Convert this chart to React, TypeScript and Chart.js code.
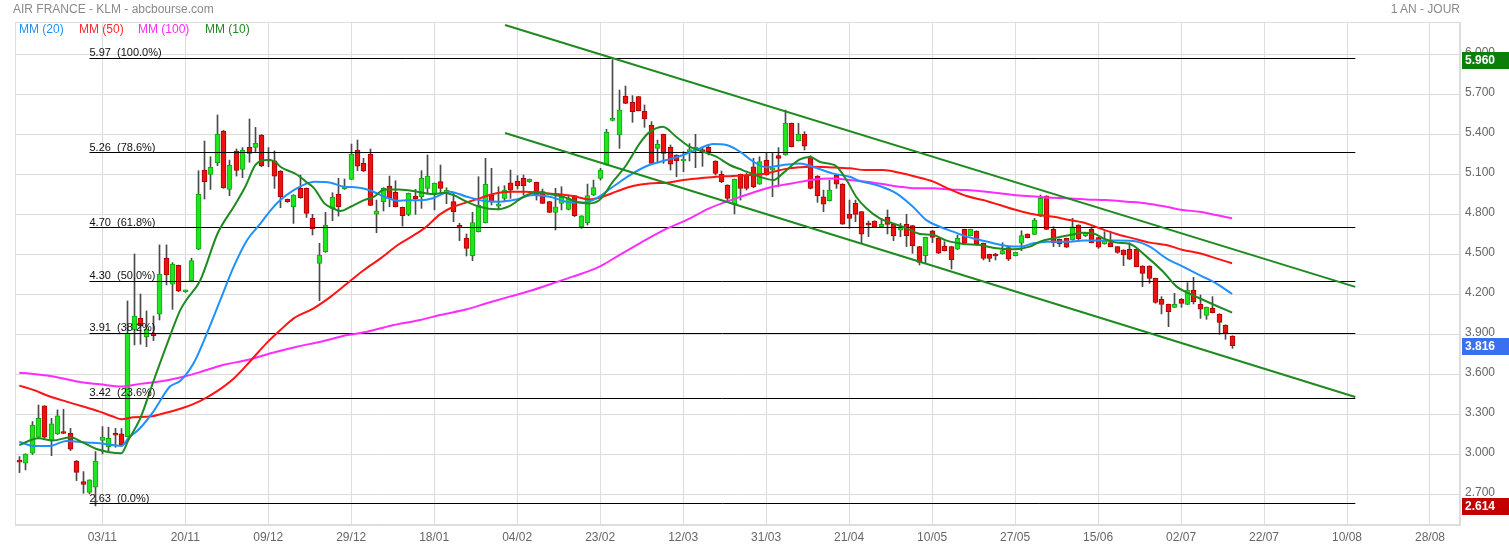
import React, { useEffect, useRef } from "react";
import { Chart, registerables } from "chart.js";

Chart.register(...registerables);

const FONT = 'Arial, "Liberation Sans", Helvetica, sans-serif';

// ---- data (x = trading-day index, 0 = 03/11) ----
const FIRST_DAY = -13;
const X_MIN = -13.67;
const X_MAX = 212.7;
const Y_MIN = 2.471;
const Y_MAX = 6.242;

const opens = [
  2.951, 2.934, 3.009, 3.129, 3.364, 3.104, 3.154, 3.162, 3.159, 2.951,
  2.796, 2.716, 2.754, 3.106, 3.059, 3.154, 3.154, 3.134, 3.933, 4.021,
  3.883, 3.903, 4.051, 4.471, 4.276, 4.418, 4.220, 4.303, 4.538, 5.132,
  5.100, 5.187, 5.425, 4.987, 5.275, 5.137, 5.302, 5.302, 5.395, 5.205,
  5.202, 5.125, 4.912, 4.857, 4.995, 4.995, 4.770, 4.433, 4.520, 4.845,
  4.950, 4.992, 5.062, 5.282, 5.182, 5.250, 4.802, 4.895, 5.012, 4.965,
  4.852, 4.800, 4.937, 4.933, 4.995, 4.957, 5.045, 4.965, 4.895, 4.718,
  4.620, 4.490, 4.670, 4.738, 4.945, 4.862, 4.920, 5.037, 5.050, 5.070,
  5.045, 5.040, 4.970, 4.895, 4.815, 4.882, 4.837, 4.940, 4.708, 4.738,
  4.945, 5.070, 5.177, 5.505, 5.395, 5.687, 5.640, 5.682, 5.575, 5.470,
  5.295, 5.400, 5.302, 5.245, 5.200, 5.270, 5.290, 5.280, 5.302, 5.200,
  5.102, 5.020, 4.875, 5.100, 5.095, 5.157, 5.027, 5.207, 5.132, 5.240,
  5.245, 5.482, 5.352, 5.400, 5.232, 5.087, 4.932, 4.902, 5.095, 5.027,
  4.802, 4.882, 4.820, 4.732, 4.750, 4.707, 4.777, 4.725, 4.682, 4.725,
  4.715, 4.558, 4.490, 4.677, 4.620, 4.562, 4.558, 4.538, 4.687, 4.640,
  4.675, 4.583, 4.500, 4.490, 4.503, 4.550, 4.490, 4.583, 4.652, 4.650,
  4.787, 4.937, 4.687, 4.613, 4.620, 4.608, 4.720, 4.640, 4.687, 4.625,
  4.578, 4.588, 4.558, 4.533, 4.538, 4.538, 4.413, 4.413, 4.320, 4.163,
  4.125, 4.103, 4.163, 4.125, 4.233, 4.125, 4.043, 4.095, 4.053, 3.970,
  3.888,
];
const highs = [
  2.984, 3.005, 3.246, 3.371, 3.366, 3.271, 3.334, 3.339, 3.196, 2.955,
  2.871, 2.810, 3.021, 3.209, 3.204, 3.196, 3.194, 4.151, 4.503, 4.203,
  4.076, 4.038, 4.571, 4.571, 4.438, 4.420, 4.232, 4.471, 5.127, 5.350,
  5.232, 5.545, 5.430, 5.207, 5.290, 5.300, 5.515, 5.452, 5.398, 5.300,
  5.275, 5.128, 4.915, 4.948, 5.095, 4.998, 4.800, 4.583, 4.815, 4.962,
  5.070, 5.065, 5.327, 5.357, 5.220, 5.290, 4.907, 5.000, 5.087, 5.052,
  4.855, 4.960, 4.987, 5.127, 5.245, 5.035, 5.170, 5.000, 4.957, 4.733,
  4.653, 4.815, 5.082, 5.220, 5.145, 5.007, 5.015, 5.132, 5.090, 5.095,
  5.065, 5.042, 4.990, 4.897, 4.995, 5.007, 4.940, 4.942, 4.790, 5.027,
  5.057, 5.145, 5.437, 5.960, 5.732, 5.762, 5.690, 5.685, 5.620, 5.495,
  5.357, 5.402, 5.320, 5.247, 5.270, 5.330, 5.400, 5.300, 5.320, 5.202,
  5.125, 5.022, 5.065, 5.102, 5.107, 5.220, 5.232, 5.257, 5.257, 5.300,
  5.582, 5.485, 5.482, 5.420, 5.240, 5.090, 4.982, 5.057, 5.097, 5.030,
  4.907, 4.907, 4.822, 4.750, 4.752, 4.770, 4.833, 4.727, 4.732, 4.800,
  4.717, 4.560, 4.629, 4.679, 4.622, 4.595, 4.560, 4.645, 4.689, 4.689,
  4.677, 4.585, 4.502, 4.508, 4.587, 4.552, 4.517, 4.677, 4.654, 4.770,
  4.945, 4.940, 4.707, 4.615, 4.622, 4.770, 4.722, 4.664, 4.707, 4.627,
  4.670, 4.670, 4.560, 4.535, 4.587, 4.540, 4.415, 4.415, 4.322, 4.183,
  4.127, 4.208, 4.170, 4.288, 4.328, 4.195, 4.105, 4.183, 4.055, 3.972,
  3.890,
];
const lows = [
  2.864, 2.884, 3.000, 3.120, 3.120, 2.991, 3.150, 3.155, 3.029, 2.804,
  2.709, 2.705, 2.614, 3.004, 3.014, 3.054, 3.065, 3.130, 3.821, 3.826,
  3.808, 3.853, 4.008, 4.271, 4.088, 4.220, 4.215, 4.298, 4.535, 4.915,
  4.987, 5.165, 4.995, 4.940, 5.087, 5.075, 5.190, 5.270, 5.157, 5.157,
  4.995, 4.850, 4.890, 4.732, 4.920, 4.777, 4.645, 4.153, 4.515, 4.752,
  4.787, 4.987, 5.060, 5.127, 5.120, 4.865, 4.662, 4.825, 4.857, 4.855,
  4.712, 4.790, 4.800, 4.845, 4.957, 4.833, 4.957, 4.880, 4.745, 4.603,
  4.488, 4.453, 4.668, 4.735, 4.870, 4.833, 4.895, 4.920, 4.990, 4.945,
  5.040, 4.907, 4.880, 4.813, 4.683, 4.833, 4.833, 4.783, 4.695, 4.720,
  4.940, 5.057, 5.170, 5.500, 5.295, 5.630, 5.490, 5.575, 5.452, 5.177,
  5.190, 5.182, 5.132, 5.082, 5.120, 5.200, 5.150, 5.160, 5.245, 5.095,
  5.037, 4.902, 4.803, 4.907, 4.982, 5.000, 5.025, 5.093, 4.932, 5.007,
  5.243, 5.305, 5.350, 5.282, 4.990, 4.890, 4.820, 4.900, 4.995, 4.725,
  4.695, 4.745, 4.583, 4.633, 4.705, 4.705, 4.653, 4.603, 4.632, 4.558,
  4.508, 4.420, 4.433, 4.588, 4.506, 4.525, 4.390, 4.536, 4.575, 4.638,
  4.570, 4.458, 4.445, 4.458, 4.501, 4.453, 4.488, 4.528, 4.623, 4.648,
  4.782, 4.685, 4.558, 4.558, 4.551, 4.606, 4.608, 4.633, 4.586, 4.545,
  4.576, 4.556, 4.508, 4.415, 4.461, 4.406, 4.258, 4.283, 4.133, 4.053,
  3.958, 4.101, 4.103, 4.123, 4.128, 4.020, 4.013, 4.061, 3.900, 3.863,
  3.795,
];
const closes = [
  2.942, 3.001, 3.219, 3.271, 3.129, 3.229, 3.289, 3.157, 3.039, 2.866,
  2.776, 2.809, 2.951, 3.131, 3.121, 3.144, 3.071, 3.908, 4.038, 3.966,
  3.938, 3.891, 4.353, 4.346, 4.428, 4.226, 4.228, 4.453, 4.950, 5.045,
  5.152, 5.400, 4.999, 5.167, 5.130, 5.282, 5.257, 5.332, 5.165, 5.200,
  5.087, 4.932, 4.895, 4.945, 4.925, 4.807, 4.690, 4.495, 4.717, 4.927,
  4.857, 5.012, 5.252, 5.162, 5.125, 4.867, 4.827, 4.995, 4.920, 4.857,
  4.790, 4.957, 4.917, 5.070, 5.087, 5.032, 4.995, 4.975, 4.820, 4.703,
  4.545, 4.738, 4.870, 5.025, 4.895, 4.866, 4.982, 4.982, 5.015, 5.015,
  5.062, 4.940, 4.882, 4.815, 4.857, 4.928, 4.920, 4.790, 4.788, 4.940,
  5.000, 5.132, 5.415, 5.512, 5.582, 5.632, 5.570, 5.577, 5.515, 5.182,
  5.325, 5.257, 5.177, 5.202, 5.205, 5.285, 5.300, 5.270, 5.270, 5.107,
  5.045, 4.920, 5.062, 4.995, 4.995, 5.007, 5.195, 5.095, 5.142, 5.220,
  5.482, 5.307, 5.400, 5.312, 4.995, 4.940, 4.877, 4.982, 5.027, 4.727,
  4.770, 4.800, 4.652, 4.720, 4.707, 4.725, 4.725, 4.638, 4.700, 4.640,
  4.565, 4.440, 4.627, 4.627, 4.508, 4.527, 4.458, 4.620, 4.583, 4.687,
  4.578, 4.470, 4.470, 4.488, 4.528, 4.463, 4.515, 4.640, 4.625, 4.757,
  4.920, 4.687, 4.588, 4.578, 4.553, 4.707, 4.615, 4.662, 4.588, 4.553,
  4.603, 4.558, 4.515, 4.495, 4.463, 4.408, 4.358, 4.320, 4.140, 4.125,
  4.070, 4.125, 4.133, 4.233, 4.145, 4.090, 4.103, 4.063, 3.990, 3.913,
  3.816,
];

// moving averages: [day, value]
const mm10 = [
  [-13, 3.071], [-10, 3.121], [-7.7, 3.104], [-5, 3.129], [-3, 3.089], [-0.9, 3.041], [3, 3.009], [4.1, 3.109],
  [5.9, 3.264], [8, 3.546], [10.1, 3.821], [12.2, 4.08], [13.2, 4.16], [15.3, 4.3], [18.1, 4.66], [20.6, 4.857],
  [22.4, 5.007], [24, 5.17], [25.8, 5.207], [27.1, 5.195], [27.9, 5.157], [30.6, 5.095], [31.9, 5.045], [33.2, 4.995],
  [34.8, 4.882], [36.4, 4.84], [37.3, 4.825], [38.9, 4.857], [41, 4.907], [42.6, 4.932], [44.2, 4.987], [46.3, 4.987],
  [48.4, 4.977], [51.9, 4.952], [53.4, 4.962], [55, 4.945], [57.1, 4.895], [59.1, 4.857], [61.8, 4.838], [63.8, 4.862],
  [66, 4.932], [68.1, 4.965], [70.1, 4.952], [72.2, 4.932], [74.2, 4.895], [76.3, 4.882], [77.9, 4.907], [80, 5.045],
  [82.1, 5.17], [84.2, 5.332], [85.5, 5.407], [87.8, 5.457], [89.9, 5.382], [92, 5.307], [94.1, 5.27], [96.2, 5.232],
  [98.3, 5.17], [100.3, 5.132], [103, 5.082], [105.1, 5.057], [106.6, 5.107], [109.2, 5.21], [110.8, 5.23], [112.6, 5.19],
  [115, 5.16], [116.6, 5.057], [118.1, 4.932], [119.7, 4.845], [121.8, 4.77], [123.9, 4.732], [126, 4.695], [128.1, 4.653],
  [130.2, 4.645], [132.3, 4.603], [134.9, 4.578], [137.5, 4.57], [140.1, 4.545], [142.7, 4.538], [145.3, 4.558], [146.9, 4.595],
  [149, 4.62], [151.6, 4.645], [153.7, 4.662], [155.3, 4.657], [156.8, 4.62], [158.9, 4.588], [161, 4.578], [163.6, 4.483],
  [166.2, 4.37], [168.3, 4.258], [170.4, 4.203], [172.5, 4.158], [174.6, 4.113], [177, 4.063],
];
const mm20 = [
  [-13, 3.096], [-10.8, 3.064], [-8.2, 3.064], [-5.6, 3.101], [-2.5, 3.089], [-0.4, 3.084], [3, 3.064], [4.1, 3.121],
  [5.9, 3.196], [8, 3.321], [10.6, 3.509], [12.2, 3.55], [14.3, 3.683], [16.4, 3.908], [18.5, 4.158], [20.6, 4.408],
  [22.7, 4.608], [24.8, 4.732], [26.4, 4.832], [27.9, 4.907], [30, 4.982], [32.1, 5.032], [33.2, 5.045], [35.8, 5.037],
  [37.9, 5.007], [40, 5.002], [42.1, 4.977], [44.2, 4.932], [46.3, 4.902], [47.8, 4.905], [49.9, 4.905], [51.8, 4.92],
  [54.4, 4.97], [57.1, 4.932], [59.7, 4.902], [62.3, 4.895], [64.9, 4.912], [67.5, 4.945], [70.1, 4.932], [72.7, 4.895],
  [75.3, 4.888], [77.4, 4.92], [80, 5.007], [83.1, 5.107], [85.7, 5.17], [88.4, 5.207], [91, 5.245], [93.6, 5.295],
  [95.7, 5.327], [97.8, 5.32], [99.9, 5.27], [102, 5.195], [104.1, 5.152], [106.7, 5.17], [109.3, 5.182], [111.3, 5.157],
  [114.4, 5.107], [117.1, 5.082], [118.6, 5.052], [121.8, 5.012], [124.4, 4.957], [127, 4.857], [129.1, 4.757], [131.2, 4.707],
  [133.3, 4.67], [135.4, 4.633], [137.5, 4.608], [139.6, 4.583], [141.7, 4.563], [143.8, 4.558], [145.9, 4.583], [148, 4.595],
  [151.1, 4.595], [153.7, 4.603], [156.3, 4.603], [158.9, 4.603], [161.5, 4.6], [164.1, 4.558], [166.7, 4.47], [169.3, 4.408],
  [171.9, 4.345], [174.5, 4.283], [177, 4.203],
];
const mm50 = [
  [-13, 3.516], [-10.8, 3.484], [-8.2, 3.434], [-5.6, 3.396], [-3, 3.359], [-0.4, 3.321], [1.7, 3.284], [3, 3.264],
  [4.9, 3.279], [7.5, 3.284], [10.1, 3.314], [12.7, 3.35], [15.3, 3.4], [18, 3.475], [20.6, 3.57], [23.1, 3.695],
  [25.7, 3.833], [27.9, 3.933], [30, 4.02], [33.1, 4.095], [35.8, 4.183], [38.4, 4.283], [41, 4.383], [43.6, 4.47],
  [46.3, 4.57], [48.7, 4.64], [50.8, 4.708], [52.9, 4.8], [55, 4.857], [57.1, 4.89], [59.1, 4.92], [61.2, 4.952],
  [63.8, 4.97], [66.4, 4.97], [68.5, 4.962], [71.1, 4.952], [73.7, 4.937], [76.3, 4.912], [78.4, 4.932], [80.5, 4.97],
  [83.1, 5.012], [85.7, 5.032], [88.4, 5.037], [91, 5.057], [93.6, 5.07], [96.2, 5.082], [98.8, 5.087], [101.4, 5.095],
  [104.1, 5.107], [106.7, 5.137], [108.8, 5.152], [111.3, 5.157], [114.4, 5.152], [117.1, 5.145], [119.7, 5.132], [122.3, 5.132],
  [124.9, 5.112], [127.5, 5.082], [130.2, 5.045], [132.8, 4.987], [135.4, 4.937], [138, 4.907], [140.6, 4.87], [143.2, 4.832],
  [145.9, 4.8], [149, 4.782], [151.6, 4.757], [154.2, 4.732], [156.3, 4.695], [158.9, 4.653], [161.5, 4.62], [164.1, 4.588],
  [166.7, 4.57], [169.3, 4.533], [171.9, 4.508], [174.5, 4.47], [177, 4.433],
];
const mm100 = [
  [-13, 3.613], [-10.8, 3.603], [-8.2, 3.588], [-5.6, 3.564], [-3, 3.539], [-0.4, 3.526], [3, 3.509], [5.9, 3.529],
  [9, 3.546], [12.2, 3.577], [15.3, 3.617], [18.9, 3.67], [22.7, 3.708], [26.4, 3.758], [30.5, 3.808], [34.2, 3.845],
  [38.4, 3.895], [41.5, 3.92], [45.2, 3.965], [49.8, 4.008], [52.9, 4.045], [57.1, 4.088], [60.2, 4.133], [63.8, 4.183],
  [67.5, 4.233], [70.6, 4.283], [73.7, 4.333], [77.9, 4.408], [81, 4.495], [84.2, 4.583], [87.8, 4.678], [91.5, 4.757],
  [95.1, 4.845], [98.8, 4.912], [101.9, 4.962], [105, 5.007], [108.2, 5.033], [111.3, 5.06], [114.4, 5.068], [117.1, 5.058],
  [119.7, 5.045], [122.3, 5.027], [124.9, 5.007], [127.5, 4.995], [130.2, 4.995], [132.8, 4.987], [135.4, 4.982], [138.5, 4.97],
  [141.7, 4.952], [144.8, 4.937], [148, 4.927], [151.1, 4.92], [154.2, 4.912], [157.3, 4.907], [160.5, 4.895], [163.6, 4.882],
  [166.7, 4.857], [169.3, 4.832], [171.9, 4.82], [174.5, 4.795], [177, 4.77],
];

const fibValues = [5.97, 5.26, 4.7, 4.3, 3.91, 3.42, 2.63];
const fibPercents = [100.0, 78.6, 61.8, 50.0, 38.2, 23.6, 0.0];
const fibSpan = [-2, 196.3];

const upperTrend = [[63.1, 6.22], [196.3, 4.256]];
const lowerTrend = [[63.1, 5.41], [196.3, 3.431]];

const xTickDays = [0, 13, 26, 39, 52, 65, 78, 91, 104, 117, 130, 143, 156, 169, 182, 195, 208];
const xTickLabels = ["03/11", "20/11", "09/12", "29/12", "18/01", "04/02", "23/02", "12/03", "31/03", "21/04", "10/05", "27/05", "15/06", "02/07", "22/07", "10/08", "28/08"];
const yTicks = [2.7, 3.0, 3.3, 3.6, 3.9, 4.2, 4.5, 4.8, 5.1, 5.4, 5.7, 6.0];

const highestValue = 5.96;
const lastValue = 3.816;
const lowestValue = 2.614;

// ---- styles ----
const UP_FILL = "#1fe51f";
const UP_EDGE = "#14a814";
const DOWN_FILL = "#ec1212";
const DOWN_EDGE = "#b00000";
const WICK = "#4a4a4a";
const GRID = "#dddddd";

const framePlugin = {
  id: "frame",
  beforeDatasetsDraw(chart: any) {
    const { ctx, chartArea } = chart;
    ctx.save();
    ctx.strokeStyle = GRID;
    ctx.lineWidth = 1;
    ctx.strokeRect(Math.round(chartArea.left) + 0.5, Math.round(chartArea.top) + 0.5,
      Math.round(chartArea.right - chartArea.left) - 1, Math.round(chartArea.bottom - chartArea.top) - 1);
    ctx.restore();
  },
};

// keep thin marks on whole pixels so they stay crisp
const snapPlugin = {
  id: "snap",
  afterDatasetsUpdate(chart: any) {
    chart.data.datasets.forEach((ds: any, i: number) => {
      const meta = chart.getDatasetMeta(i);
      if (ds.snapY) meta.data.forEach((el: any) => { el.y = Math.round(el.y - 0.5) + 0.5; });
      if (ds.snapX) meta.data.forEach((el: any) => { el.x = Math.floor(el.x) + 0.5; });
    });
  },
};

const fibLabelPlugin = {
  id: "fibLabels",
  afterDatasetsDraw(chart: any) {
    const { ctx } = chart;
    const xs = chart.scales.x;
    const ys = chart.scales.y;
    ctx.save();
    ctx.font = `11px ${FONT}`;
    ctx.fillStyle = "#111111";
    ctx.textAlign = "left";
    ctx.textBaseline = "alphabetic";
    fibValues.forEach((v, k) => {
      const px = xs.getPixelForValue(fibSpan[0]);
      const py = Math.round(ys.getPixelForValue(v));
      ctx.fillText(`${v.toFixed(2)}  (${fibPercents[k].toFixed(1)}%)`, px, py - 2);
    });
    ctx.restore();
  },
};

const tagPlugin = {
  id: "priceTags",
  afterDraw(chart: any) {
    const { ctx, chartArea } = chart;
    const ys = chart.scales.y;
    const items: [number, string][] = [
      [highestValue, "#0a800a"],
      [lastValue, "#3a6ff2"],
      [lowestValue, "#c20000"],
    ];
    ctx.save();
    ctx.font = `bold 12px ${FONT}`;
    ctx.textAlign = "left";
    ctx.textBaseline = "middle";
    for (const [v, c] of items) {
      const py = Math.round(ys.getPixelForValue(v));
      ctx.fillStyle = c;
      ctx.fillRect(chartArea.right + 2, py - 8, 47, 17);
      ctx.fillStyle = "#ffffff";
      ctx.fillText(v.toFixed(3), chartArea.right + 5, py + 1);
    }
    ctx.restore();
  },
};

function pairsToPoints(pairs: number[][]) {
  return pairs.map(([x, y]) => ({ x, y }));
}

export default function App() {
  const ref = useRef<HTMLCanvasElement>(null);

  useEffect(() => {
    document.body.style.margin = "0";
    const canvas = ref.current;
    if (!canvas) return;

    const wickData = opens.map((_, k) => ({ x: FIRST_DAY + k, y: [lows[k], highs[k]] }));
    const bodyData = opens.map((o, k) => ({ x: FIRST_DAY + k, y: [o, closes[k]] }));
    const bodyFill = opens.map((o, k) => (closes[k] >= o ? UP_FILL : DOWN_FILL));
    const bodyEdge = opens.map((o, k) => (closes[k] >= o ? UP_EDGE : DOWN_EDGE));

    const maLine = (pairs: number[][], color: string, order: number) => ({
      type: "line" as const,
      data: pairsToPoints(pairs),
      borderColor: color,
      borderWidth: 2,
      pointRadius: 0,
      fill: false,
      cubicInterpolationMode: "monotone" as const,
      order,
    });

    const datasets: any[] = [
      { type: "line", data: pairsToPoints(upperTrend), borderColor: "#1f8a1f", borderWidth: 2, pointRadius: 0, fill: false, order: 0 },
      { type: "line", data: pairsToPoints(lowerTrend), borderColor: "#1f8a1f", borderWidth: 2, pointRadius: 0, fill: false, order: 0 },
      maLine(mm10, "#1f8a1f", 1),
      maLine(mm20, "#1e90ff", 2),
      maLine(mm50, "#ff1414", 3),
      maLine(mm100, "#ff2bff", 4),
      ...fibValues.map((v) => ({
        type: "line",
        data: [{ x: fibSpan[0], y: v }, { x: fibSpan[1], y: v }],
        borderColor: "#000000",
        borderWidth: 1,
        pointRadius: 0,
        fill: false,
        snapY: true,
        order: 5,
      })),
      {
        type: "bar",
        data: bodyData,
        backgroundColor: bodyFill,
        borderColor: bodyEdge,
        borderWidth: 1,
        borderSkipped: false,
        barThickness: 5,
        minBarLength: 2,
        grouped: false,
        snapX: true,
        order: 6,
      },
      {
        type: "bar",
        data: wickData,
        backgroundColor: WICK,
        borderWidth: 0,
        barThickness: 1,
        grouped: false,
        snapX: true,
        order: 7,
      },
    ];

    const chart = new Chart(canvas, {
      type: "line",
      data: { datasets },
      options: {
        responsive: false,
        animation: false,
        events: [],
        layout: { padding: { left: 15, top: 22, right: 0, bottom: 0 } },
        plugins: { legend: { display: false }, tooltip: { enabled: false } },
        scales: {
          x: {
            type: "linear",
            min: X_MIN,
            max: X_MAX,
            offset: false,
            afterBuildTicks: (s: any) => {
              s.ticks = xTickDays.map((v) => ({ value: v }));
            },
            afterFit: (s: any) => {
              s.height = 24;
            },
            ticks: {
              autoSkip: false,
              maxRotation: 0,
              minRotation: 0,
              padding: 5,
              color: "#666666",
              font: { family: FONT, size: 12 },
              callback: (val: any) => {
                const k = xTickDays.indexOf(Number(val));
                return k >= 0 ? xTickLabels[k] : "";
              },
            },
            grid: { color: GRID, lineWidth: 1, drawTicks: false, offset: false },
            border: { color: GRID },
          },
          y: {
            type: "linear",
            position: "right",
            min: Y_MIN,
            max: Y_MAX,
            afterBuildTicks: (s: any) => {
              s.ticks = yTicks.map((v) => ({ value: v }));
            },
            afterFit: (s: any) => {
              s.width = 49;
            },
            ticks: {
              padding: 5,
              labelOffset: -2,
              color: "#666666",
              font: { family: FONT, size: 12 },
              callback: (val: any) => Number(val).toFixed(3),
            },
            grid: { color: GRID, lineWidth: 1, drawTicks: false },
            border: { color: GRID },
          },
        },
      } as any,
      plugins: [framePlugin, snapPlugin, fibLabelPlugin, tagPlugin],
    } as any);

    return () => chart.destroy();
  }, []);

  const legend = [
    { text: "MM (20)", color: "#1e90ff", left: 19 },
    { text: "MM (50)", color: "#ff2a2a", left: 79 },
    { text: "MM (100)", color: "#ff2bff", left: 138 },
    { text: "MM (10)", color: "#1f8a1f", left: 205 },
  ];

  return (
    <div style={{ position: "relative", width: 1509, height: 549, fontFamily: FONT, background: "#ffffff", overflow: "hidden" }}>
      <canvas ref={ref} width={1509} height={549} style={{ display: "block", width: 1509, height: 549 }} />
      <div style={{ position: "absolute", left: 13, top: 2, fontSize: 12, lineHeight: "14px", color: "#8a8a8a", whiteSpace: "nowrap" }}>
        AIR FRANCE - KLM - abcbourse.com
      </div>
      <div style={{ position: "absolute", right: 49, top: 2, fontSize: 12, lineHeight: "14px", color: "#8a8a8a", whiteSpace: "nowrap" }}>
        1 AN - JOUR
      </div>
      {legend.map((l) => (
        <div key={l.text} style={{ position: "absolute", left: l.left, top: 22, fontSize: 12, lineHeight: "14px", color: l.color, whiteSpace: "nowrap" }}>
          {l.text}
        </div>
      ))}
    </div>
  );
}
